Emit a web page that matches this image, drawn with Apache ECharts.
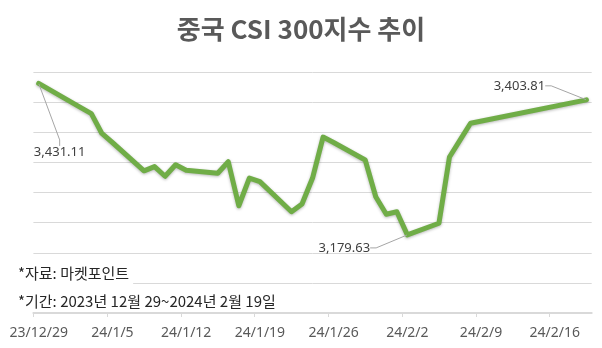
<!DOCTYPE html>
<html>
<head>
<meta charset="utf-8">
<script src="https://cdn.jsdelivr.net/npm/echarts@6/dist/echarts.min.js"></script>
<style>
  html, body { margin: 0; padding: 0; background: #fff; }
  #chart { width: 602px; height: 348px; }
</style>
</head>
<body>
<div id="chart"></div>
<script>
// CSI 300 daily closes, trading days only
const tradeDates = [
  '2023-12-29', '2024-01-02', '2024-01-03', '2024-01-04', '2024-01-05',
  '2024-01-08', '2024-01-09', '2024-01-10', '2024-01-11', '2024-01-12',
  '2024-01-15', '2024-01-16', '2024-01-17', '2024-01-18', '2024-01-19',
  '2024-01-22', '2024-01-23', '2024-01-24', '2024-01-25', '2024-01-26',
  '2024-01-29', '2024-01-30', '2024-01-31', '2024-02-01', '2024-02-02',
  '2024-02-05', '2024-02-06', '2024-02-07', '2024-02-08', '2024-02-19'
];
const closes = [
  3431.11, 3391, 3381, 3348, 3333,
  3286, 3293, 3277, 3296, 3287,
  3282, 3301, 3228, 3274, 3268,
  3218, 3231, 3274, 3342, 3333,
  3304, 3243, 3214, 3218, 3179.63,
  3199, 3309, 3337, 3365, 3403.81
];
// weekly date labels along the bottom axis
const tickLabels = ['23/12/29', '24/1/5', '24/1/12', '24/1/19', '24/1/26', '24/2/2', '24/2/9', '24/2/16'];

const titleText = '중국 CSI 300지수 추이';
const sourceNote = '*자료: 마켓포인트';
const periodNote = '*기간: 2023년 12월 29~2024년 2월 19일';

const DAY = 86400000;
function isoToUTC(s) {
  const [y, m, d] = s.split('-').map(Number);
  return Date.UTC(y, m - 1, d);
}
function shortToUTC(s) {
  const [y, m, d] = s.split('/').map(Number);
  return Date.UTC(2000 + y, m - 1, d);
}
const origin = isoToUTC(tradeDates[0]);
const dayOf = t => Math.round((t - origin) / DAY);

// each trading day sits in the middle of its calendar-day slot
const points = tradeDates.map((d, i) => [dayOf(isoToUTC(d)) + 0.5, closes[i]]);
const lastDay = dayOf(isoToUTC(tradeDates[tradeDates.length - 1])) + 1;

const tickDays = tickLabels.map(s => dayOf(shortToUTC(s)));
const labelDays = tickDays.map(d => d + 0.5);

// label the first close, the lowest close and the latest close
const firstIdx = 0;
const lastIdx = closes.length - 1;
const minIdx = closes.indexOf(Math.min(...closes));
const labelShift = {};
labelShift[firstIdx] = { dx: 21, dy: 69 };
labelShift[minIdx] = { dx: -63, dy: 13 };
labelShift[lastIdx] = { dx: -67, dy: -14 };

const fmt = v => v.toLocaleString('en-US', { minimumFractionDigits: 2, maximumFractionDigits: 2 });

const seriesData = points.map((p, i) => ({
  value: p,
  label: { show: labelShift[i] !== undefined }
}));

const chart = echarts.init(document.getElementById('chart'), null, { renderer: 'canvas' });
chart.setOption({
  animation: false,
  backgroundColor: '#ffffff',
  title: {
    text: titleText,
    left: 'center',
    top: 11,
    textStyle: {
      fontFamily: '"Noto Sans CJK KR", sans-serif',
      fontSize: 26,
      fontWeight: 'bold',
      color: '#595959'
    }
  },
  grid: { left: 33.4, right: 10.3, top: 72, bottom: 35 },
  xAxis: {
    type: 'value',
    min: 0,
    max: lastDay,
    splitLine: { show: false },
    axisLine: { show: true, lineStyle: { color: '#d9d9d9', width: 2 } },
    axisTick: {
      show: true,
      length: 4,
      customValues: tickDays,
      lineStyle: { color: '#d9d9d9', width: 1 }
    },
    axisLabel: {
      customValues: labelDays,
      margin: 13,
      fontSize: 14,
      fontFamily: '"Noto Sans", sans-serif',
      color: '#595959',
      formatter: v => {
        const k = labelDays.indexOf(v);
        return k >= 0 ? tickLabels[k] : '';
      }
    }
  },
  yAxis: {
    type: 'value',
    min: 3050,
    max: 3450,
    interval: 50,
    axisLine: { show: false },
    axisTick: { show: false },
    axisLabel: { show: false },
    splitLine: { lineStyle: { color: '#d9d9d9', width: 1 } }
  },
  series: [{
    type: 'line',
    data: seriesData,
    showSymbol: true,
    symbol: 'circle',
    symbolSize: 1,
    itemStyle: { color: '#70ad47' },
    lineStyle: {
      color: '#70ad47',
      width: 5,
      cap: 'round',
      join: 'round',
      shadowColor: 'rgba(0,0,0,0.28)',
      shadowBlur: 3,
      shadowOffsetY: 1
    },
    label: {
      show: false,
      position: 'inside',
      fontSize: 13,
      fontFamily: '"Noto Sans", sans-serif',
      color: '#404040',
      formatter: p => fmt(p.value[1])
    },
    labelLine: {
      show: true,
      length2: 6,
      lineStyle: { color: '#a6a6a6', width: 1 }
    },
    labelLayout: p => labelShift[p.dataIndex] || {},
    emphasis: { disabled: true },
    z: 3
  }],
  graphic: [
    {
      type: 'text',
      left: 14,
      top: 264,
      z: 10,
      style: {
        text: sourceNote,
        font: '15px "Noto Sans CJK KR", sans-serif',
        fill: '#262626',
        backgroundColor: '#ffffff',
        padding: [2, 4, 6, 4]
      }
    },
    {
      type: 'text',
      left: 18,
      top: 294,
      z: 10,
      style: {
        text: periodNote,
        font: '15px "Noto Sans CJK KR", sans-serif',
        fill: '#262626'
      }
    }
  ]
});
</script>
</body>
</html>
